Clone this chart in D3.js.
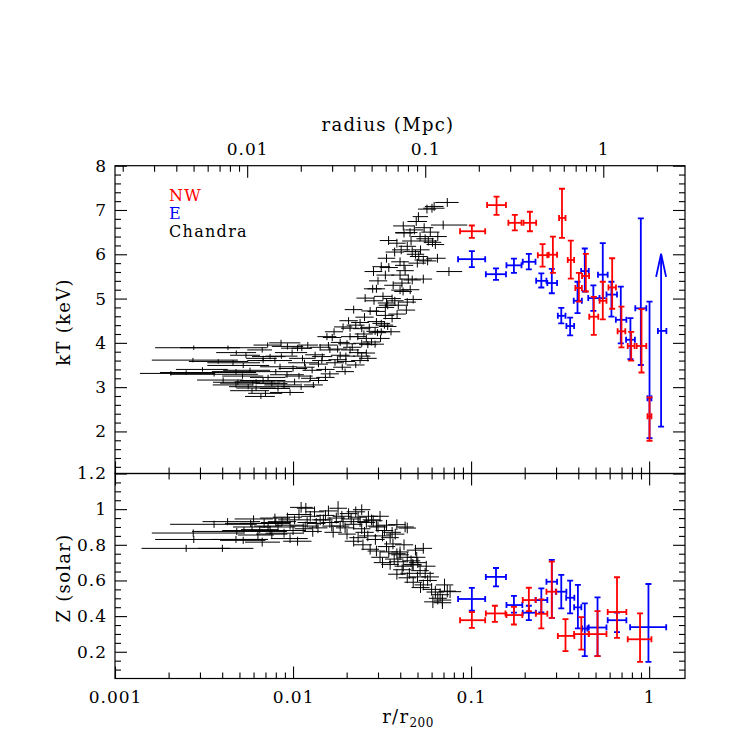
<!DOCTYPE html>
<html>
<head>
<meta charset="utf-8">
<script src="https://cdn.jsdelivr.net/npm/d3@7"></script>
<style>
  body { margin: 0; background: #fff; }
  text { font-family: "DejaVu Serif", serif; }
</style>
</head>
<body>
<div id="chart"></div>
<script>
// r200 in Mpc, used for the top axis
var r200Mpc = 1.81;

// XMM NW sector: [r, rlo, rhi, kT, kTlo, kThi]
var nwTemp = [
  [0.101, 0.0867, 0.120, 6.52, 6.37, 6.65],
  [0.139, 0.123, 0.157, 7.11, 6.89, 7.30],
  [0.176, 0.162, 0.192, 6.71, 6.54, 6.89],
  [0.214, 0.197, 0.232, 6.71, 6.52, 6.96],
  [0.252, 0.237, 0.268, 5.98, 5.72, 6.23],
  [0.288, 0.273, 0.304, 5.99, 5.58, 6.40],
  [0.324, 0.312, 0.339, 6.82, 6.37, 7.48],
  [0.363, 0.349, 0.379, 5.87, 5.45, 6.31],
  [0.403, 0.385, 0.419, 5.24, 4.93, 5.58],
  [0.441, 0.420, 0.460, 5.51, 5.16, 6.01],
  [0.489, 0.461, 0.518, 4.59, 4.18, 5.04],
  [0.549, 0.527, 0.576, 4.95, 4.53, 5.38],
  [0.620, 0.591, 0.651, 5.25, 4.77, 5.91],
  [0.699, 0.665, 0.735, 4.26, 3.90, 4.82],
  [0.793, 0.758, 0.828, 3.93, 3.60, 4.25],
  [0.906, 0.851, 0.964, 3.93, 3.33, 4.76],
  [1.005, 0.979, 1.03, 2.34, 1.79, 2.77]
];

// XMM E sector
var eTemp = [
  [0.101, 0.0845, 0.120, 5.89, 5.71, 6.07],
  [0.138, 0.121, 0.157, 5.55, 5.42, 5.68],
  [0.174, 0.158, 0.192, 5.75, 5.58, 5.90],
  [0.211, 0.195, 0.230, 5.83, 5.66, 6.01],
  [0.248, 0.232, 0.265, 5.40, 5.25, 5.57],
  [0.284, 0.268, 0.304, 5.35, 5.12, 5.67],
  [0.321, 0.307, 0.339, 4.61, 4.44, 4.79],
  [0.360, 0.343, 0.379, 4.38, 4.17, 4.57],
  [0.396, 0.377, 0.419, 4.95, 4.67, 5.38],
  [0.435, 0.415, 0.458, 5.62, 5.16, 6.13],
  [0.486, 0.455, 0.526, 5.01, 4.72, 5.30],
  [0.549, 0.516, 0.585, 5.54, 5.01, 6.25],
  [0.614, 0.576, 0.660, 5.09, 4.59, 5.38],
  [0.693, 0.650, 0.745, 4.52, 3.99, 5.27],
  [0.785, 0.742, 0.832, 4.07, 3.63, 4.56],
  [0.898, 0.836, 0.964, 4.78, 3.50, 6.81],
  [1.005, 0.979, 1.03, 2.75, 1.85, 4.93]
];

// E sector outermost bin, lower limit: [r, rlo, rhi, kT, kTlo, arrow tip]
var eLimit = [1.167, 1.12, 1.25, 4.27, 2.11, 6.01];

var nwAbund = [
  [0.101, 0.0867, 0.120, 0.377, 0.334, 0.422],
  [0.136, 0.121, 0.156, 0.415, 0.368, 0.458],
  [0.174, 0.158, 0.194, 0.406, 0.353, 0.452],
  [0.211, 0.195, 0.231, 0.490, 0.428, 0.559],
  [0.248, 0.231, 0.268, 0.413, 0.331, 0.494],
  [0.284, 0.265, 0.301, 0.537, 0.390, 0.706],
  [0.339, 0.307, 0.380, 0.289, 0.204, 0.383],
  [0.416, 0.379, 0.458, 0.299, 0.212, 0.394],
  [0.513, 0.458, 0.576, 0.299, 0.176, 0.428],
  [0.660, 0.585, 0.745, 0.423, 0.278, 0.618],
  [0.889, 0.758, 1.03, 0.270, 0.143, 0.415]
];

var eAbund = [
  [0.101, 0.0845, 0.120, 0.496, 0.430, 0.558],
  [0.138, 0.121, 0.157, 0.620, 0.567, 0.670],
  [0.174, 0.158, 0.194, 0.462, 0.419, 0.514],
  [0.211, 0.195, 0.231, 0.419, 0.377, 0.458],
  [0.248, 0.230, 0.268, 0.490, 0.421, 0.556],
  [0.284, 0.265, 0.304, 0.593, 0.390, 0.715],
  [0.321, 0.299, 0.343, 0.537, 0.443, 0.631],
  [0.360, 0.342, 0.380, 0.503, 0.415, 0.599],
  [0.398, 0.379, 0.416, 0.449, 0.331, 0.575],
  [0.435, 0.420, 0.450, 0.330, 0.176, 0.471],
  [0.513, 0.458, 0.576, 0.336, 0.176, 0.505],
  [0.660, 0.585, 0.745, 0.377, 0.310, 0.420],
  [0.991, 0.782, 1.247, 0.338, 0.143, 0.580]
];

// Chandra: [r, rlo, rhi, kT, err]
var chandraTemp = [
  [0.00277,0.00168,0.00504,3.89,0.05],[0.00431,0.00232,0.00714,3.89,0.05],
  [0.00274,0.00161,0.00490,3.61,0.05],[0.00206,0.00138,0.00365,3.31,0.05],
  [0.00251,0.00179,0.00620,3.33,0.05],[0.00360,0.00204,0.00635,3.29,0.05],
  [0.00679,0.00545,0.00811,3.65,0.06],[0.00525,0.00330,0.00734,3.49,0.06],
  [0.00478,0.00350,0.00653,3.35,0.06],[0.00405,0.00289,0.00525,3.16,0.06],
  [0.00490,0.00355,0.00653,3.11,0.06],[0.00588,0.00443,0.00734,2.92,0.06],
  [0.00660,0.00537,0.00791,2.79,0.06],[0.00595,0.00389,0.00845,3.09,0.06],
  [0.00478,0.00354,0.00595,3.05,0.06],[0.00679,0.00504,0.00907,3.15,0.06],
  [0.00823,0.00653,0.00962,2.97,0.07],[0.00962,0.00743,0.0115,2.88,0.07],
  [0.0111,0.00856,0.0133,3.01,0.07],[0.00856,0.00734,0.0110,4.00,0.07],
  [0.00671,0.00553,0.00762,3.84,0.06],[0.00743,0.00588,0.00907,3.69,0.06],
  [0.00679,0.00553,0.00762,3.60,0.06],[0.00460,0.00330,0.00653,3.55,0.06],
  [0.00573,0.00405,0.00743,3.38,0.06],[0.00544,0.00443,0.00653,3.72,0.06],
  [0.00791,0.00635,0.00987,3.60,0.07],[0.00845,0.00653,0.0105,3.46,0.07],
  [0.00925,0.00743,0.0115,3.28,0.07],[0.00724,0.00573,0.00907,3.22,0.06],
  [0.0102,0.00807,0.0125,3.12,0.07],[0.00890,0.00690,0.0110,3.05,0.07],
  [0.0106,0.00856,0.0127,3.88,0.07],[0.00988,0.00791,0.0120,3.78,0.07],
  [0.0116,0.00938,0.0139,3.55,0.07],[0.00560,0.00437,0.00962,3.01,0.06],
  [0.00620,0.00470,0.00800,3.12,0.06],
  [0.00310,0.00220,0.00430,3.40,0.05],[0.00380,0.00260,0.00560,3.58,0.05],
  [0.00520,0.00400,0.00680,3.25,0.06],[0.00620,0.00480,0.00800,2.98,0.06],
  [0.00700,0.00560,0.00870,2.86,0.06],[0.00760,0.00620,0.00930,3.08,0.06],
  [0.00800,0.00650,0.00990,3.35,0.06],[0.00860,0.00700,0.0106,3.70,0.06],
  [0.00930,0.00760,0.0114,3.92,0.07],[0.00720,0.00600,0.00860,3.95,0.06],
  [0.0100,0.00830,0.0120,3.42,0.07],[0.0108,0.00900,0.0129,3.25,0.07],
  [0.0113,0.00950,0.0134,3.65,0.07],[0.00480,0.00370,0.00620,3.78,0.05],
  [0.0121,0.0106,0.0138,3.95,0.07],[0.0112,0.0098,0.0128,3.88,0.07],
  [0.0142,0.0124,0.0162,3.90,0.07],[0.0161,0.0141,0.0184,3.84,0.07],
  [0.0178,0.0157,0.0202,3.86,0.08],[0.0209,0.0186,0.0235,3.84,0.08],
  [0.0231,0.0206,0.0259,3.78,0.08],[0.0258,0.0230,0.0289,3.77,0.08],
  [0.0133,0.0117,0.0151,3.73,0.07],[0.0146,0.0128,0.0166,3.69,0.07],
  [0.0184,0.0163,0.0208,3.72,0.08],[0.0198,0.0176,0.0223,3.70,0.08],
  [0.0243,0.0217,0.0272,3.70,0.08],[0.0166,0.0147,0.0187,4.12,0.08],
  [0.0155,0.0137,0.0175,4.14,0.08],[0.0184,0.0163,0.0208,4.01,0.08],
  [0.0201,0.0179,0.0226,3.98,0.08],[0.0243,0.0217,0.0272,3.99,0.08],
  [0.0263,0.0235,0.0295,3.96,0.08],[0.0289,0.0258,0.0324,3.97,0.08],
  [0.0209,0.0186,0.0235,4.14,0.08],[0.0231,0.0206,0.0259,4.14,0.08],
  [0.0258,0.0230,0.0289,4.10,0.08],[0.0276,0.0246,0.0309,4.02,0.08],
  [0.0191,0.0170,0.0215,4.36,0.08],[0.0209,0.0186,0.0235,4.33,0.08],
  [0.0243,0.0217,0.0272,4.32,0.08],[0.0289,0.0258,0.0324,4.26,0.08],
  [0.0298,0.0266,0.0334,4.23,0.08],[0.0313,0.0279,0.0351,4.25,0.08],
  [0.0238,0.0212,0.0267,4.46,0.08],[0.0225,0.0200,0.0252,4.40,0.08],
  [0.0294,0.0262,0.0329,4.48,0.08],[0.0313,0.0279,0.0351,4.44,0.08],
  [0.0326,0.0291,0.0365,4.40,0.08],[0.0340,0.0303,0.0381,4.37,0.08],
  [0.0330,0.0294,0.0370,4.62,0.09],[0.0360,0.0321,0.0403,4.55,0.09],
  [0.0384,0.0343,0.0430,4.65,0.09],[0.0294,0.0262,0.0329,4.71,0.09],
  [0.0271,0.0242,0.0304,4.72,0.09],[0.0219,0.0195,0.0245,4.75,0.09],
  [0.0433,0.0386,0.0485,4.74,0.09],[0.0360,0.0321,0.0403,5.00,0.09],
  [0.0373,0.0333,0.0418,4.95,0.09],[0.0335,0.0299,0.0375,4.90,0.09],
  [0.0340,0.0303,0.0381,4.85,0.09],[0.0330,0.0294,0.0370,4.80,0.09],
  [0.0438,0.0391,0.0491,4.92,0.09],[0.0473,0.0422,0.0530,4.98,0.09],
  [0.0254,0.0227,0.0285,5.01,0.09],[0.0280,0.0250,0.0314,5.22,0.09],
  [0.0294,0.0262,0.0329,5.22,0.09],[0.0399,0.0356,0.0447,5.19,0.09],
  [0.0415,0.0370,0.0465,5.16,0.09],[0.0409,0.0365,0.0458,5.35,0.1],
  [0.0444,0.0396,0.0497,5.44,0.1],[0.0467,0.0417,0.0523,5.42,0.1],
  [0.0539,0.0481,0.0604,5.44,0.1],[0.0283,0.0252,0.0317,5.61,0.1],
  [0.0330,0.0294,0.0370,5.53,0.1],[0.0399,0.0356,0.0447,5.53,0.1],
  [0.0426,0.0380,0.0477,5.63,0.1],[0.0751,0.0639,0.0891,5.61,0.1],
  [0.0313,0.0279,0.0351,5.72,0.1],[0.0399,0.0356,0.0447,5.83,0.1],
  [0.0499,0.0445,0.0559,5.80,0.1],[0.0335,0.0299,0.0375,5.91,0.1],
  [0.0647,0.0560,0.0720,5.91,0.1],[0.0467,0.0417,0.0523,6.06,0.1],
  [0.0487,0.0435,0.0545,6.00,0.1],[0.0508,0.0453,0.0569,5.95,0.1],
  [0.0539,0.0481,0.0604,5.87,0.1],[0.0570,0.0509,0.0638,5.85,0.1],
  [0.0438,0.0391,0.0491,6.18,0.1],[0.0383,0.0342,0.0429,6.25,0.1],
  [0.0344,0.0307,0.0385,6.31,0.1],[0.0517,0.0461,0.0579,6.40,0.1],
  [0.0552,0.0493,0.0618,6.35,0.1],[0.0575,0.0513,0.0644,6.30,0.1],
  [0.0607,0.0542,0.0680,6.27,0.1],[0.0630,0.0562,0.0706,6.22,0.1],
  [0.0416,0.0365,0.0480,6.64,0.1],[0.0454,0.0375,0.0500,6.49,0.1],
  [0.0420,0.0375,0.0470,6.48,0.1],[0.0697,0.0595,0.0952,6.66,0.1],
  [0.0492,0.0439,0.0565,6.74,0.1],[0.0506,0.0470,0.0573,6.85,0.1],
  [0.0603,0.0539,0.0709,7.04,0.1],[0.0620,0.0550,0.0700,7.08,0.1],
  [0.0735,0.0629,0.0851,7.17,0.1],
  [0.0117,0.0104,0.0132,3.45,0.07],[0.0128,0.0113,0.0145,3.38,0.07],
  [0.0139,0.0123,0.0157,3.52,0.07],[0.0152,0.0135,0.0171,3.40,0.07],
  [0.0161,0.0143,0.0181,3.30,0.07],[0.0172,0.0153,0.0193,3.55,0.07],
  [0.0189,0.0168,0.0212,3.45,0.07],[0.0198,0.0176,0.0223,3.58,0.07],
  [0.0225,0.0200,0.0252,3.50,0.07],[0.0125,0.0111,0.0141,3.20,0.07],
  [0.0139,0.0123,0.0157,3.15,0.07],[0.0152,0.0135,0.0171,3.22,0.07],
  [0.0196,0.0174,0.0220,3.35,0.07],[0.0238,0.0212,0.0267,3.60,0.07],
  [0.0263,0.0235,0.0295,3.65,0.07],
  [0.0130,0.0115,0.0147,3.05,0.07],[0.0145,0.0128,0.0164,3.60,0.07],
  [0.0158,0.0140,0.0178,3.95,0.07],[0.0170,0.0151,0.0191,4.25,0.08],
  [0.0178,0.0158,0.0200,3.62,0.07],[0.0205,0.0182,0.0231,4.50,0.08],
  [0.0215,0.0191,0.0242,3.90,0.08],[0.0250,0.0222,0.0281,4.20,0.08],
  [0.0252,0.0224,0.0284,4.58,0.09],[0.0268,0.0238,0.0302,4.35,0.08],
  [0.0285,0.0253,0.0321,4.95,0.09],[0.0300,0.0267,0.0338,5.40,0.09],
  [0.0310,0.0276,0.0349,4.10,0.08],[0.0320,0.0285,0.0360,5.05,0.09],
  [0.0345,0.0307,0.0388,5.70,0.1],[0.0355,0.0316,0.0400,4.25,0.08],
  [0.0365,0.0325,0.0411,5.30,0.09],[0.0372,0.0331,0.0419,6.05,0.1],
  [0.0390,0.0347,0.0439,4.85,0.09],[0.0405,0.0360,0.0456,6.10,0.1],
  [0.0420,0.0374,0.0473,5.75,0.1],[0.0455,0.0405,0.0512,5.20,0.1],
  [0.0460,0.0410,0.0518,6.30,0.1],[0.0480,0.0427,0.0540,6.55,0.1],
  [0.0520,0.0463,0.0585,6.10,0.1],[0.0545,0.0485,0.0613,6.60,0.1],
  [0.0565,0.0503,0.0636,7.02,0.1],[0.0590,0.0525,0.0664,6.50,0.1],
  [0.0650,0.0579,0.0731,6.40,0.1]
];

// Chandra: [r, rlo, rhi, Z, err]
var chandraAbund = [
  [0.00251,0.00141,0.00443,0.78,0.02],[0.00401,0.00293,0.00599,0.78,0.02],
  [0.00277,0.00168,0.00710,0.83,0.02],[0.00275,0.00161,0.00525,0.866,0.02],
  [0.00360,0.00204,0.00625,0.915,0.02],[0.00483,0.00271,0.00925,0.875,0.02],
  [0.00429,0.00310,0.00653,0.93,0.02],[0.00478,0.00350,0.00724,0.83,0.02],
  [0.00525,0.00389,0.00700,0.825,0.02],[0.00578,0.00415,0.00856,0.92,0.02],
  [0.00688,0.00504,0.00962,0.92,0.025],[0.00635,0.00490,0.00780,0.855,0.025],
  [0.00743,0.00588,0.00907,0.88,0.025],[0.00823,0.00653,0.0103,0.90,0.025],
  [0.00890,0.00700,0.0113,0.865,0.025],[0.00671,0.00537,0.00845,0.815,0.025],
  [0.00962,0.00750,0.0121,0.835,0.025],[0.0111,0.00962,0.0129,1.01,0.03],
  [0.0102,0.00825,0.0125,0.94,0.025],[0.00791,0.00653,0.00962,0.95,0.025],
  [0.0117,0.00962,0.0139,0.905,0.025],[0.0106,0.00880,0.0127,0.82,0.025],
  [0.00724,0.00604,0.00868,0.905,0.025],[0.00867,0.00724,0.0104,0.93,0.025],
  [0.00962,0.00800,0.0115,0.91,0.025],[0.00588,0.00460,0.00750,0.90,0.025],
  [0.0118,0.0105,0.0133,1.005,0.03],[0.0179,0.0160,0.0201,1.005,0.04],
  [0.0243,0.0217,0.0272,0.997,0.03],[0.0142,0.0127,0.0159,0.94,0.03],
  [0.0161,0.0144,0.0181,0.925,0.03],[0.0191,0.0170,0.0214,0.93,0.03],
  [0.0219,0.0195,0.0245,0.915,0.03],[0.0258,0.0230,0.0289,0.925,0.03],
  [0.0294,0.0262,0.0329,0.905,0.03],[0.0114,0.0102,0.0128,0.89,0.03],
  [0.0129,0.0115,0.0145,0.875,0.03],[0.0168,0.0150,0.0188,0.87,0.03],
  [0.0201,0.0179,0.0225,0.86,0.03],[0.0219,0.0195,0.0245,0.82,0.03],
  [0.0247,0.0220,0.0277,0.80,0.03],[0.0271,0.0242,0.0304,0.775,0.03],
  [0.0294,0.0262,0.0329,0.765,0.03],[0.0318,0.0284,0.0356,0.85,0.03],
  [0.0351,0.0313,0.0393,0.84,0.03],[0.0383,0.0342,0.0429,0.913,0.03],
  [0.0438,0.0391,0.0491,0.894,0.03],[0.0383,0.0342,0.0429,0.75,0.03],
  [0.0399,0.0356,0.0447,0.76,0.03],[0.0438,0.0391,0.0491,0.73,0.03],
  [0.0487,0.0435,0.0545,0.77,0.03],[0.0539,0.0481,0.0604,0.78,0.03],
  [0.0318,0.0284,0.0356,0.70,0.03],[0.0351,0.0313,0.0393,0.69,0.03],
  [0.0388,0.0346,0.0435,0.705,0.03],[0.0416,0.0371,0.0466,0.68,0.03],
  [0.0467,0.0417,0.0523,0.69,0.03],[0.0502,0.0448,0.0562,0.70,0.03],
  [0.0495,0.0442,0.0554,0.73,0.03],[0.0517,0.0461,0.0579,0.655,0.03],
  [0.0552,0.0493,0.0618,0.64,0.03],[0.0589,0.0526,0.0660,0.62,0.03],
  [0.0383,0.0342,0.0429,0.635,0.03],[0.0438,0.0391,0.0491,0.615,0.03],
  [0.0473,0.0422,0.0530,0.59,0.03],[0.0539,0.0481,0.0604,0.575,0.03],
  [0.0630,0.0562,0.0706,0.535,0.035],[0.0670,0.0598,0.0751,0.52,0.035],
  [0.0735,0.0656,0.0823,0.54,0.035],[0.0762,0.0660,0.0880,0.537,0.035],
  [0.0610,0.0545,0.0683,0.48,0.035],[0.0690,0.0616,0.0773,0.475,0.035],
  [0.0709,0.0633,0.0794,0.575,0.035],[0.0690,0.0616,0.0773,0.49,0.035],
  [0.0426,0.0380,0.0477,0.90,0.03],[0.0473,0.0422,0.0530,0.687,0.03],
  [0.0399,0.0356,0.0447,0.744,0.03],[0.0125,0.0111,0.0141,0.96,0.03],
  [0.0135,0.0120,0.0152,0.92,0.03],[0.0152,0.0135,0.0171,0.965,0.03],
  [0.0175,0.0156,0.0196,0.95,0.03],[0.0184,0.0164,0.0207,0.905,0.03],
  [0.0205,0.0183,0.0230,0.975,0.03],[0.0232,0.0207,0.0260,0.955,0.03],
  [0.0243,0.0217,0.0272,0.89,0.03],[0.0276,0.0246,0.0310,0.94,0.03],
  [0.0308,0.0275,0.0345,0.96,0.03],[0.0326,0.0291,0.0365,0.88,0.03],
  [0.0360,0.0321,0.0403,0.87,0.03],[0.0263,0.0235,0.0295,0.85,0.03],
  [0.0232,0.0207,0.0260,0.84,0.03],[0.0335,0.0299,0.0375,0.79,0.03],
  [0.0364,0.0325,0.0408,0.805,0.03],[0.0308,0.0275,0.0345,0.73,0.03],
  [0.00530,0.00400,0.00700,0.88,0.02],[0.00600,0.00470,0.00770,0.945,0.02],
  [0.00650,0.00510,0.00830,0.885,0.02],[0.00760,0.00620,0.00930,0.86,0.025],
  [0.00800,0.00660,0.00970,0.925,0.025],[0.00930,0.00770,0.0112,0.955,0.025],
  [0.0100,0.00850,0.0118,0.88,0.025],[0.0108,0.00920,0.0127,0.97,0.03],
  [0.0120,0.0106,0.0136,0.925,0.03],[0.0132,0.0117,0.0149,0.985,0.03],
  [0.0138,0.0122,0.0156,0.895,0.03],[0.0148,0.0131,0.0167,0.94,0.03],
  [0.0158,0.0140,0.0178,0.99,0.03],[0.0165,0.0146,0.0186,0.905,0.03],
  [0.0188,0.0167,0.0212,0.96,0.03],[0.0196,0.0174,0.0221,0.895,0.03],
  [0.0212,0.0188,0.0239,0.945,0.03],[0.0225,0.0200,0.0254,0.985,0.03],
  [0.0238,0.0211,0.0268,0.93,0.03],[0.0252,0.0224,0.0284,0.87,0.03],
  [0.0265,0.0235,0.0299,0.96,0.03],[0.0282,0.0250,0.0318,0.935,0.03],
  [0.0290,0.0258,0.0327,0.83,0.03],[0.0300,0.0267,0.0338,0.90,0.03],
  [0.0335,0.0298,0.0377,0.91,0.03],[0.0345,0.0307,0.0388,0.76,0.03],
  [0.0370,0.0329,0.0417,0.72,0.03],[0.0375,0.0333,0.0422,0.86,0.03],
  [0.0410,0.0365,0.0462,0.66,0.03],[0.0420,0.0374,0.0473,0.80,0.03],
  [0.0450,0.0401,0.0507,0.64,0.03],[0.0460,0.0410,0.0518,0.71,0.03],
  [0.0500,0.0445,0.0563,0.62,0.03],[0.0520,0.0463,0.0585,0.56,0.03],
  [0.0570,0.0508,0.0642,0.60,0.03],[0.0600,0.0534,0.0676,0.55,0.035],
  [0.0650,0.0579,0.0731,0.50,0.035],[0.0560,0.0499,0.0631,0.68,0.03]
];

var xLabels = ["0.001", "0.01", "0.1", "1"];
var mpcLabels = ["0.01", "0.1", "1"];
var kTLabels = [2, 3, 4, 5, 6, 7, 8];
var zLabels = [0.2, 0.4, 0.6, 0.8, 1, 1.2];

var W = 747, H = 747;
// frame edges (note: "top" is reserved on window, so use other names)
var fLeft = 115, fRight = 685, fTop = 165.7, fMid = 473.5, fBottom = 678.5;

var svg = d3.select("#chart").append("svg")
  .attr("width", W).attr("height", H);

var x = d3.scaleLog().domain([0.001, 1.59]).range([fLeft, fRight]);
var xMpc = d3.scaleLog().domain([0.001 * r200Mpc, 1.59 * r200Mpc]).range([fLeft, fRight]);
var yT = d3.scaleLinear().domain([1.05, 8]).range([fMid, fTop]);
var yZ = d3.scaleLinear().domain([0.05, 1.2]).range([fBottom, fMid]);

function isMajor(v) { return Math.abs(Math.log10(v) - Math.round(Math.log10(v))) < 1e-6; }

var xMinor = x.ticks().filter(v => !isMajor(v));
var xMajor = xLabels.map(Number);
var mpcMinor = xMpc.ticks().filter(v => !isMajor(v));
var mpcMajor = mpcLabels.map(Number);
var kTMinor = d3.range(1.2, 8, 0.2).filter(v => Math.abs(v - Math.round(v)) > 0.01);
var zMinor = d3.range(0.1, 1.2, 0.05).filter(v => Math.abs(v * 5 - Math.round(v * 5)) > 0.01);

function styleAxis(g) {
  g.select(".domain").remove();
  g.selectAll("line").attr("stroke", "#000").attr("stroke-width", 1.1);
  g.selectAll("text")
    .attr("fill", "#000")
    .style("font-family", "DejaVu Serif")
    .style("font-size", "17px")
    .style("letter-spacing", "1px");
}

function addAxis(axis, tx, ty) {
  var g = svg.append("g").attr("transform", "translate(" + tx + "," + ty + ")").call(axis);
  styleAxis(g);
  return g;
}

// ---- top panel axes
addAxis(d3.axisBottom(x).tickValues(xMajor).tickSize(-12).tickFormat(""), 0, fMid);
addAxis(d3.axisBottom(x).tickValues(xMinor).tickSize(-6).tickFormat(""), 0, fMid);
addAxis(d3.axisTop(xMpc).tickValues(mpcMajor).tickSize(-12).tickPadding(11)
  .tickFormat((d, i) => mpcLabels[i]), 0, fTop);
addAxis(d3.axisTop(xMpc).tickValues(mpcMinor).tickSize(-6).tickFormat(""), 0, fTop);
addAxis(d3.axisLeft(yT).tickValues(kTLabels).tickSize(-12).tickPadding(8)
  .tickFormat(d3.format("~g")), fLeft, 0);
addAxis(d3.axisLeft(yT).tickValues(kTMinor).tickSize(-6).tickFormat(""), fLeft, 0);
addAxis(d3.axisRight(yT).tickValues(kTLabels).tickSize(-12).tickFormat(""), fRight, 0);
addAxis(d3.axisRight(yT).tickValues(kTMinor).tickSize(-6).tickFormat(""), fRight, 0);

// ---- bottom panel axes
addAxis(d3.axisTop(x).tickValues(xMajor).tickSize(-12).tickFormat(""), 0, fMid);
addAxis(d3.axisTop(x).tickValues(xMinor).tickSize(-6).tickFormat(""), 0, fMid);
addAxis(d3.axisBottom(x).tickValues(xMajor).tickSize(-12).tickPadding(12)
  .tickFormat((d, i) => xLabels[i]), 0, fBottom);
addAxis(d3.axisBottom(x).tickValues(xMinor).tickSize(-6).tickFormat(""), 0, fBottom);
addAxis(d3.axisLeft(yZ).tickValues(zLabels).tickSize(-12).tickPadding(8)
  .tickFormat(d3.format("~g")), fLeft, 0);
addAxis(d3.axisLeft(yZ).tickValues(zMinor).tickSize(-6).tickFormat(""), fLeft, 0);
addAxis(d3.axisRight(yZ).tickValues(zLabels).tickSize(-12).tickFormat(""), fRight, 0);
addAxis(d3.axisRight(yZ).tickValues(zMinor).tickSize(-6).tickFormat(""), fRight, 0);

// frames
svg.append("rect").attr("x", fLeft).attr("y", fTop).attr("width", fRight - fLeft).attr("height", fMid - fTop)
  .attr("fill", "none").attr("stroke", "#000").attr("stroke-width", 1.2);
svg.append("rect").attr("x", fLeft).attr("y", fMid).attr("width", fRight - fLeft).attr("height", fBottom - fMid)
  .attr("fill", "none").attr("stroke", "#000").attr("stroke-width", 1.2);

// ---- error bars
function errBars(rows, y, color, sw, cap, cls) {
  var g = svg.append("g").attr("class", cls)
    .attr("stroke", color).attr("stroke-width", sw).attr("fill", "none");
  var pts = rows.map(d => d.length === 5
    ? { r: d[0], rlo: d[1], rhi: d[2], v: d[3], lo: d[3] - d[4], hi: d[3] + d[4] }
    : { r: d[0], rlo: d[1], rhi: d[2], v: d[3], lo: d[4], hi: d[5] });
  var sel = g.selectAll("g").data(pts).join("g");
  sel.append("line")
    .attr("x1", d => x(d.rlo)).attr("x2", d => x(d.rhi))
    .attr("y1", d => y(d.v)).attr("y2", d => y(d.v));
  sel.append("line")
    .attr("x1", d => x(d.r)).attr("x2", d => x(d.r))
    .attr("y1", d => y(d.lo)).attr("y2", d => y(d.hi));
  if (cap) {
    sel.append("path").attr("d", d =>
      "M" + x(d.rlo) + "," + (y(d.v) - cap) + "V" + (y(d.v) + cap) +
      "M" + x(d.rhi) + "," + (y(d.v) - cap) + "V" + (y(d.v) + cap) +
      "M" + (x(d.r) - cap) + "," + y(d.lo) + "H" + (x(d.r) + cap) +
      "M" + (x(d.r) - cap) + "," + y(d.hi) + "H" + (x(d.r) + cap));
  }
  return g;
}

errBars(chandraTemp, yT, "#000", 1, 0, "chandra");
errBars(chandraAbund, yZ, "#000", 1, 0, "chandra");
errBars(eTemp, yT, "#0000ff", 1.8, 3, "east");
errBars(eAbund, yZ, "#0000ff", 1.8, 3, "east");
errBars(nwTemp, yT, "#ff0000", 1.8, 3, "nw");
errBars(nwAbund, yZ, "#ff0000", 1.8, 3, "nw");

// lower limit with arrow
var lim = svg.append("g").attr("stroke", "#0000ff").attr("stroke-width", 1.8).attr("fill", "none");
var lx = x(eLimit[0]), ly = yT(eLimit[3]), lb = yT(eLimit[4]), lt = yT(eLimit[5]);
lim.append("line").attr("x1", x(eLimit[1])).attr("x2", x(eLimit[2])).attr("y1", ly).attr("y2", ly);
lim.append("line").attr("x1", lx).attr("x2", lx).attr("y1", lb).attr("y2", lt);
lim.append("path").attr("d",
  "M" + x(eLimit[1]) + "," + (ly - 3) + "V" + (ly + 3) +
  "M" + x(eLimit[2]) + "," + (ly - 3) + "V" + (ly + 3) +
  "M" + (lx - 3) + "," + lb + "H" + (lx + 3));
lim.append("path").attr("d", "M" + (lx - 5) + "," + (lt + 23) + "L" + lx + "," + lt + "L" + (lx + 5) + "," + (lt + 23));

// ---- labels
function label(txt, tx, ty, rot, color, size) {
  var t = svg.append("text").attr("fill", color || "#000")
    .style("font-size", (size || 18) + "px").style("letter-spacing", "1.3px");
  if (rot) {
    t.attr("transform", "translate(" + tx + "," + ty + ") rotate(-90)").attr("text-anchor", "middle");
  } else {
    t.attr("x", tx).attr("y", ty);
  }
  t.text(txt);
  return t;
}

label("radius (Mpc)", 388, 131).attr("text-anchor", "middle");
label("kT (keV)", 70, 322, true);
label("Z (solar)", 70, 578, true);

var xt = svg.append("text").attr("x", 408).attr("y", 723).attr("text-anchor", "middle")
  .style("font-size", "18px").style("letter-spacing", "1.3px");
xt.append("tspan").text("r/r");
xt.append("tspan").attr("dy", 4).style("font-size", "12px").style("letter-spacing", "0.5px").text("200");

// legend, stacked like the reference
label("NW", 169, 201, false, "#ff0000", 16);
label("E", 169, 219, false, "#0000ff", 16);
label("Chandra", 169, 237, false, "#000", 16);
</script>
</body>
</html>
